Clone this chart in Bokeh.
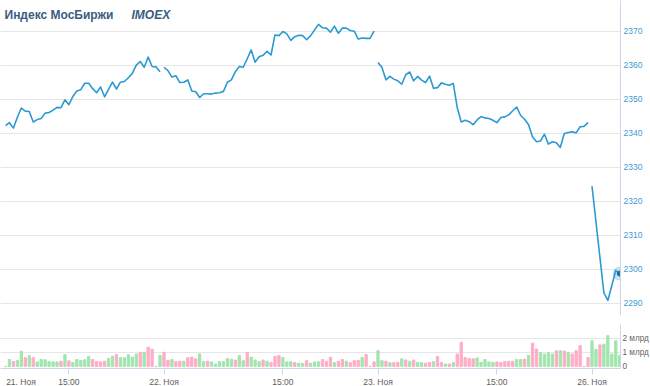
from bokeh.plotting import figure
from bokeh.layouts import column
from bokeh.models import Range1d, FixedTicker, Label, ColumnDataSource, LinearAxis
from bokeh.embed import file_html
from bokeh.resources import INLINE

# ---- data -------------------------------------------------------------
# x = 10-minute slot index (0 = 22 Nov 10:00, 54 slots per trading day)
day21_start = -40
day21_price = [2342.2, 2343.1, 2341.5, 2344.7, 2347.4, 2346.5, 2346.4, 2343.3, 2344.0, 2344.3,
               2345.9, 2346.1, 2346.8, 2347.6, 2347.5, 2349.8, 2348.4, 2350.8, 2352.4, 2352.8,
               2354.7, 2354.7, 2353.1, 2351.9, 2353.6, 2350.7, 2352.9, 2355.0, 2353.0, 2355.0,
               2355.2, 2356.3, 2357.6, 2360.0, 2361.1, 2359.4, 2362.4, 2359.6, 2359.5, 2358.1]
day22_start = 0
day22_price = [2359.4, 2358.4, 2356.5, 2356.9, 2354.9, 2355.0, 2355.7, 2352.4, 2352.2, 2350.5,
               2351.6, 2351.6, 2351.5, 2351.8, 2351.9, 2352.3, 2355.0, 2355.7, 2358.1, 2359.6,
               2359.4, 2361.9, 2364.5, 2360.9, 2362.5, 2362.9, 2364.1, 2363.0, 2368.9, 2368.7,
               2369.9, 2369.2, 2367.3, 2368.4, 2368.8, 2368.7, 2367.5, 2368.7, 2370.4, 2372.0,
               2371.0, 2370.9, 2369.7, 2371.5, 2369.4, 2370.9, 2370.9, 2370.2, 2370.0, 2367.7,
               2368.0, 2367.9, 2367.9, 2370.0]
day23_start = 54
day23_price = [2360.8, 2359.3, 2355.7, 2356.7, 2355.9, 2355.4, 2354.4, 2357.2, 2358.0, 2355.4,
               2356.7, 2355.6, 2354.9, 2356.8, 2353.2, 2353.4, 2354.8, 2354.4, 2354.1, 2354.6,
               2347.5, 2343.3, 2343.8, 2343.4, 2342.5, 2343.9, 2344.9, 2344.5, 2344.3, 2343.8,
               2343.1, 2344.6, 2344.8, 2345.4, 2346.6, 2347.7, 2345.2, 2344.1, 2342.5, 2338.9,
               2337.5, 2337.7, 2339.7, 2336.8, 2337.5, 2337.2, 2335.8, 2339.9, 2340.2, 2340.4,
               2340.1, 2341.9, 2342.0, 2343.1]
day26_slots = [108, 111, 112, 114, 115]
day26_price = [2324.4, 2293.0, 2290.8, 2299.6, 2298.7]

vol_start = -40
volume_bn = [0.0, 0.49, 0.35, 0.42, 1.09, 0.62, 0.77, 0.62, 0.32, 0.49,
             0.47, 0.35, 0.32, 0.32, 0.37, 0.84, 0.40, 0.27, 0.49, 0.42,
             0.47, 0.72, 0.49, 0.35, 0.32, 0.37, 0.57, 0.72, 0.84, 0.62,
             0.62, 0.84, 0.67, 0.89, 1.01, 1.01, 1.38, 1.23, 0.0, 0.79,
             # 22 Nov
             1.01, 0.44, 0.49, 0.35, 0.37, 0.37, 0.62, 0.67, 0.54, 0.89,
             0.35, 0.37, 0.32, 0.17, 0.34, 0.34, 0.56, 0.51, 0.46, 0.78,
             0.41, 1.00, 0.66, 0.46, 0.34, 0.46, 0.37, 0.27, 0.71, 0.78,
             0.63, 0.32, 0.34, 0.27, 0.22, 0.22, 0.41, 0.22, 0.32, 0.34,
             0.49, 0.37, 0.66, 0.27, 0.37, 0.49, 0.37, 0.27, 0.41, 0.44,
             0.63, 0.85, 0.0, 0.32,
             # 23 Nov
             1.12, 0.41, 0.37, 0.27, 0.27, 0.29, 0.54, 0.46, 0.37, 0.46,
             0.29, 0.27, 0.22, 0.29, 0.34, 0.71, 0.29, 0.17, 0.17, 0.27,
             0.88, 1.73, 0.63, 0.56, 0.54, 0.61, 0.29, 0.49, 0.32, 0.29,
             0.32, 0.27, 0.34, 0.37, 0.37, 0.49, 0.49, 0.52, 0.80, 1.66,
             1.24, 1.00, 0.88, 0.98, 0.88, 1.12, 1.12, 1.10, 1.00, 0.88,
             1.12, 1.49, 0.0, 0.63,
             # 26 Nov
             1.83, 1.22, 1.54, 1.59, 2.20, 0.88, 1.83, 0.80]
volume_dir = ("uudu" "udud" "uuuuu" "ududuuuuu" "dddd" "uuduuuuud" "udbu"
              "uddudduddd" "uudu" "uuuuudu" "uduuudud" "ddu" "uuduuduuuddd" "udbu"
              "dddudddu" "udud" "dudud" "uudduddud" "uddddd" "uuuuu" "ddddd" "uud" "uddu" "uuudubu"
              "ddddduud")

tick_slots = [-24, 0, 30, 54, 84, 108]
tick_labels = ["15:00", "22. Ноя", "15:00", "23. Ноя", "15:00", "26. Ноя"]
# the 21 Nov label is justified inside the left edge, so it sits right of the first slot
first_label_slot = -36.1
first_day_label = "21. Ноя"
price_ticks = [2290, 2300, 2310, 2320, 2330, 2340, 2350, 2360, 2370]
vol_ticks = [0, 1, 2, 3]
vol_tick_labels = ["0", "1 млрд", "2 млрд", ""]

# ---- styling ------------------------------------------------------------
FONT = "Liberation Sans"
LINE_BLUE = "#2b9ad3"
AXIS_LINE = "#ccd6eb"
GRID = "#e6e6e6"
UP = "#a2e5ae"
DOWN = "#ffadc6"
VOL_BOTTOM = -0.15

xr = Range1d(-41.26, 115.19)

# price panel
p = figure(frame_width=620, frame_height=315, x_range=xr, y_range=Range1d(2286.38, 2379.03),
           output_backend="svg", toolbar_location=None, x_axis_location=None,
           y_axis_location="right", min_border_left=0, min_border_right=30,
           min_border_top=0, min_border_bottom=0)
p.outline_line_color = None
p.xgrid.visible = False
p.ygrid.grid_line_color = GRID
p.ygrid.ticker = FixedTicker(ticks=price_ticks)
ya = p.yaxis[0]
ya.ticker = FixedTicker(ticks=price_ticks)
ya.axis_line_color = AXIS_LINE
ya.major_tick_line_color = None
ya.minor_tick_line_color = None
ya.major_tick_out = 0
ya.major_tick_in = 0
ya.minor_tick_out = 0
ya.minor_tick_in = 0
ya.major_label_standoff = 3
ya.major_label_text_font = FONT
ya.major_label_text_font_size = "8.5px"
ya.major_label_text_color = "#3d9bd3"

segments = [
    (list(range(day21_start, day21_start + len(day21_price))), day21_price),
    (list(range(day22_start, day22_start + len(day22_price))), day22_price),
    (list(range(day23_start, day23_start + len(day23_price))), day23_price),
    (day26_slots, day26_price),
]
for xs, ys in segments:
    p.line(xs, ys, line_color=LINE_BLUE, line_width=1.6, line_join="round")

p.scatter([day26_slots[-1]], [day26_price[-1]], size=13, color=LINE_BLUE, alpha=0.25)
p.scatter([day26_slots[-1]], [day26_price[-1]], size=5, color="#1f6fa6")

t1 = Label(x=4, y=301, x_units="screen", y_units="screen", text="Индекс МосБиржи",
           text_font=FONT, text_font_size="12px", text_font_style="bold",
           text_color="#3b5b80", text_baseline="alphabetic")
t2 = Label(x=131, y=301, x_units="screen", y_units="screen", text="IMOEX",
           text_font=FONT, text_font_size="12px", text_font_style="bold italic",
           text_color="#3b5b80", text_baseline="alphabetic")
p.add_layout(t1)
p.add_layout(t2)

# volume panel
v = figure(frame_width=620, frame_height=44, x_range=xr, y_range=Range1d(VOL_BOTTOM, 3.0),
           output_backend="svg", toolbar_location=None, y_axis_location="right",
           min_border_left=0, min_border_right=30, min_border_top=9, min_border_bottom=18)
v.outline_line_color = None
v.xgrid.visible = False
v.ygrid.grid_line_color = GRID
v.ygrid.ticker = FixedTicker(ticks=[1, 2, 3])

vx = list(range(vol_start, vol_start + len(volume_bn)))
vcol = [UP if d == "u" else DOWN for d in volume_dir]
vcol = vcol[:len(vx)] + [UP] * (len(vx) - len(vcol))
vsrc = ColumnDataSource(dict(x=vx, top=volume_bn, color=vcol))
v.vbar(x="x", top="top", bottom=0, width=0.58, color="color", source=vsrc)

vy = v.yaxis[0]
vy.ticker = FixedTicker(ticks=vol_ticks)
vy.major_label_overrides = {t: s for t, s in zip(vol_ticks, vol_tick_labels)}
vy.axis_line_color = AXIS_LINE
vy.major_tick_line_color = None
vy.minor_tick_line_color = None
vy.major_tick_out = 0
vy.major_tick_in = 0
vy.minor_tick_out = 0
vy.minor_tick_in = 0
vy.major_label_standoff = 2
vy.major_label_text_font = FONT
vy.major_label_text_font_size = "8.2px"
vy.major_label_text_color = "#666666"

# axis A: axis line and tick marks only
vxa = v.xaxis[0]
vxa.ticker = FixedTicker(ticks=tick_slots)
vxa.major_label_overrides = {t: "" for t in tick_slots}
vxa.major_label_text_font_size = "0px"
vxa.major_label_standoff = 0
vxa.axis_line_color = AXIS_LINE
vxa.major_tick_line_color = AXIS_LINE
vxa.major_tick_in = 0
vxa.major_tick_out = 6
vxa.minor_tick_line_color = None
vxa.minor_tick_in = 0
vxa.minor_tick_out = 0

# axis B: the date / time labels (just below the tick marks)
label_slots = [first_label_slot] + tick_slots
label_texts = [first_day_label] + tick_labels
lab_ax = LinearAxis(ticker=FixedTicker(ticks=label_slots),
                    major_label_overrides={t: s for t, s in zip(label_slots, label_texts)})
lab_ax.axis_line_color = None
lab_ax.major_tick_line_color = None
lab_ax.minor_tick_line_color = None
lab_ax.major_tick_in = 0
lab_ax.major_tick_out = 0
lab_ax.minor_tick_in = 0
lab_ax.minor_tick_out = 0
lab_ax.major_label_standoff = 2
lab_ax.major_label_text_font = FONT
lab_ax.major_label_text_font_size = "8.5px"
lab_ax.major_label_text_color = "#606060"
v.add_layout(lab_ax, "below")

layout = column(p, v, spacing=0)
open("out.html", "w").write(file_html(layout, INLINE))
